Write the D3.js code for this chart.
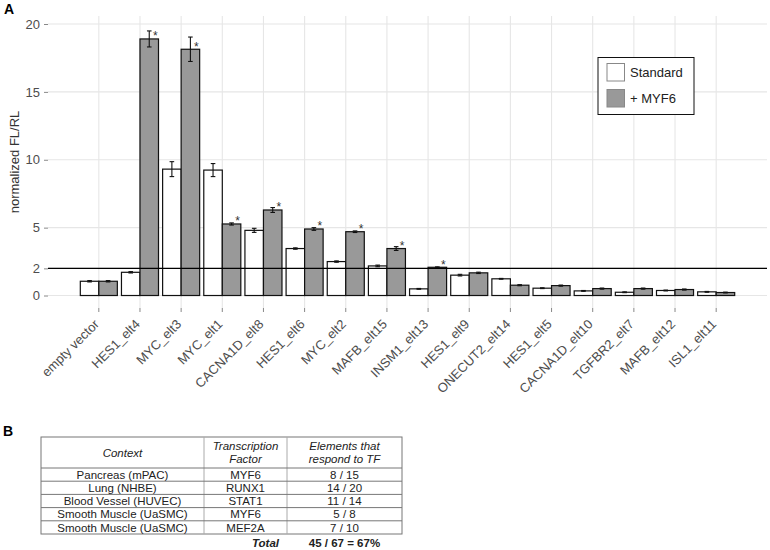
<!DOCTYPE html>
<html>
<head>
<meta charset="utf-8">
<script src="https://cdn.jsdelivr.net/npm/d3@7"></script>
<style>
  body { margin: 0; background: #fff; }
  svg { display: block; font-family: "Liberation Sans", Arial, sans-serif; }
</style>
</head>
<body>
<svg id="chart" width="770" height="550"></svg>
<script>
// ---- Data ----
const categories = ["empty vector","HES1_elt4","MYC_elt3","MYC_elt1","CACNA1D_elt8","HES1_elt6","MYC_elt2","MAFB_elt15","INSM1_elt13","HES1_elt9","ONECUT2_elt14","HES1_elt5","CACNA1D_elt10","TGFBR2_elt7","MAFB_elt12","ISL1_elt11"];
const seriesNames = ["Standard", "+ MYF6"];
const standardValues = [1.05, 1.71, 9.31, 9.24, 4.8, 3.46, 2.5, 2.18, 0.49, 1.5, 1.23, 0.54, 0.34, 0.24, 0.37, 0.27];
const standardErrors = [0.05, 0.05, 0.55, 0.48, 0.15, 0.05, 0.05, 0.06, 0.03, 0.06, 0.03, 0.03, 0.03, 0.03, 0.03, 0.03];
const myf6Values = [1.05, 18.9, 18.14, 5.27, 6.3, 4.9, 4.7, 3.46, 2.08, 1.67, 0.76, 0.73, 0.51, 0.51, 0.44, 0.22];
const myf6Errors = [0.05, 0.59, 0.9, 0.08, 0.18, 0.1, 0.06, 0.14, 0.03, 0.05, 0.04, 0.04, 0.04, 0.04, 0.04, 0.03];
const significant = [false, true, true, true, true, true, true, true, true, false, false, false, false, false, false, false];
const yTicks = [0, 2, 5, 10, 15, 20];
const thresholdValue = 2;

const tableHeaders = [["Context"], ["Transcription", "Factor"], ["Elements that", "respond to TF"]];
const tableContexts = ["Pancreas (mPAC)", "Lung (NHBE)", "Blood Vessel (HUVEC)", "Smooth Muscle (UaSMC)", "Smooth Muscle (UaSMC)"];
const tableFactors = ["MYF6", "RUNX1", "STAT1", "MYF6", "MEF2A"];
const tableElements = ["8 / 15", "14 / 20", "11 / 14", "5 / 8", "7 / 10"];
const totalLabel = "Total";
const totalValue = "45 / 67 = 67%";

// ---- Layout ----
const svg = d3.select("#chart");
const panel = { left: 48, right: 767, top: 16, bottom: 308 };

const x0 = d3.scaleBand().domain(categories).range([panel.left, panel.right]).paddingInner(0).paddingOuter(0.735);
const step = x0.step();
const groupW = step * 0.9;
const x1 = d3.scaleBand().domain(seriesNames).range([0, groupW]);
const groupStart = c => x0(c) + (x0.bandwidth() - groupW) / 2;
const y = d3.scaleLinear().domain([-0.92, 20.59]).range([panel.bottom, panel.top]);

const fills = { "Standard": "#ffffff", "+ MYF6": "#999999" };

// grid
const grid = svg.append("g");
grid.selectAll("line.h").data(yTicks).join("line")
  .attr("x1", panel.left).attr("x2", panel.right)
  .attr("y1", d => y(d)).attr("y2", d => y(d))
  .attr("stroke", "#e6e6e6").attr("stroke-width", 1.1);
grid.selectAll("line.v").data(categories).join("line")
  .attr("x1", d => x0(d) + x0.bandwidth() / 2).attr("x2", d => x0(d) + x0.bandwidth() / 2)
  .attr("y1", panel.top).attr("y2", panel.bottom)
  .attr("stroke", "#e6e6e6").attr("stroke-width", 1.1);

// bars data
const barData = [];
categories.forEach((c, i) => {
  barData.push({ c, s: "Standard", v: standardValues[i], e: standardErrors[i], sig: false });
  barData.push({ c, s: "+ MYF6", v: myf6Values[i], e: myf6Errors[i], sig: significant[i] });
});

svg.append("g").selectAll("rect").data(barData).join("rect")
  .attr("x", d => groupStart(d.c) + x1(d.s))
  .attr("width", x1.bandwidth())
  .attr("y", d => y(d.v))
  .attr("height", d => y(0) - y(d.v))
  .attr("fill", d => fills[d.s])
  .attr("stroke", "#111").attr("stroke-width", 1.2);

// error bars
const eb = svg.append("g").attr("stroke", "#111").attr("stroke-width", 1.1);
barData.forEach(d => {
  const cx = groupStart(d.c) + x1(d.s) + x1.bandwidth() / 2;
  const hw = 2.3;
  eb.append("line").attr("x1", cx).attr("x2", cx).attr("y1", y(d.v + d.e)).attr("y2", y(d.v - d.e));
  eb.append("line").attr("x1", cx - hw).attr("x2", cx + hw).attr("y1", y(d.v + d.e)).attr("y2", y(d.v + d.e));
  eb.append("line").attr("x1", cx - hw).attr("x2", cx + hw).attr("y1", y(d.v - d.e)).attr("y2", y(d.v - d.e));
});

// stars
svg.append("g").selectAll("text").data(barData.filter(d => d.sig)).join("text")
  .attr("x", d => groupStart(d.c) + x1(d.s) + x1.bandwidth() / 2 + 6)
  .attr("y", d => y(d.v) + 1.5)
  .attr("text-anchor", "middle")
  .attr("font-size", 12).attr("fill", "#333")
  .text("*");

// threshold line
svg.append("line")
  .attr("x1", panel.left).attr("x2", panel.right)
  .attr("y1", y(thresholdValue)).attr("y2", y(thresholdValue))
  .attr("stroke", "#000").attr("stroke-width", 1.3);

// y axis
const yAxis = svg.append("g").attr("transform", `translate(${panel.left},0)`)
  .call(d3.axisLeft(y).tickValues(yTicks).tickSize(4).tickPadding(4).tickFormat(d3.format("d")));
yAxis.select(".domain").remove();
yAxis.selectAll(".tick line").attr("stroke", "#888");
yAxis.selectAll(".tick text").attr("fill", "#4d4d4d").attr("font-size", 13)
  .attr("font-family", "Liberation Sans, Arial, sans-serif");

// x axis
const xAxis = svg.append("g").attr("transform", `translate(0,${panel.bottom})`)
  .call(d3.axisBottom(x0).tickSize(4).tickPadding(2));
xAxis.select(".domain").remove();
xAxis.selectAll(".tick line").attr("stroke", "#888");
xAxis.selectAll(".tick text")
  .attr("fill", "#4d4d4d").attr("font-size", 13)
  .attr("font-family", "Liberation Sans, Arial, sans-serif")
  .attr("text-anchor", "end")
  .attr("y", 0)
  .attr("dy", 0)
  .attr("transform", "translate(1,17) rotate(-45)");

// y title
svg.append("text")
  .attr("transform", `translate(14,${(panel.top + panel.bottom) / 2}) rotate(-90)`)
  .attr("text-anchor", "middle").attr("dy", "0.35em")
  .attr("font-size", 13).attr("fill", "#333")
  .text("normalized FL/RL");

// legend
const lg = svg.append("g");
lg.append("rect").attr("x", 598).attr("y", 57.5).attr("width", 96).attr("height", 57)
  .attr("fill", "#fff").attr("stroke", "#111").attr("stroke-width", 1);
seriesNames.forEach((s, i) => {
  lg.append("rect").attr("x", 607).attr("y", 63.5 + i * 26).attr("width", 17.5).attr("height", 17.5)
    .attr("fill", fills[s]).attr("stroke", "#888").attr("stroke-width", 1);
  lg.append("text").attr("x", 630).attr("y", 72.5 + i * 26).attr("dy", "0.35em")
    .attr("font-size", 13).attr("fill", "#222").text(s);
});

// panel labels
svg.append("text").attr("x", 4).attr("y", 14).attr("font-size", 14).attr("font-weight", "bold").text("A");
svg.append("text").attr("x", 3).attr("y", 436).attr("font-size", 14).attr("font-weight", "bold").text("B");

// ---- Table ----
const colX = [41, 204, 287, 402];
const tTop = 437, headH = 31, rowH = 13.2;
const tb = svg.append("g").attr("font-size", 11.5).attr("fill", "#222");
const nRows = tableContexts.length;
const tBottom = tTop + headH + rowH * nRows;
tb.append("rect").attr("x", colX[0]).attr("y", tTop).attr("width", colX[3] - colX[0]).attr("height", tBottom - tTop)
  .attr("fill", "none").attr("stroke", "#777").attr("stroke-width", 1);
[colX[1], colX[2]].forEach(cx => tb.append("line").attr("x1", cx).attr("x2", cx).attr("y1", tTop).attr("y2", tBottom)
  .attr("stroke", "#aaa").attr("stroke-width", 1));
for (let r = 0; r < nRows; r++) {
  const yy = tTop + headH + r * rowH;
  tb.append("line").attr("x1", colX[0]).attr("x2", colX[3]).attr("y1", yy).attr("y2", yy)
    .attr("stroke", "#777").attr("stroke-width", 1);
}
const colCenter = i => (colX[i] + colX[i + 1]) / 2;
tableHeaders.forEach((lines, i) => {
  lines.forEach((t, k) => {
    const cy = lines.length === 1 ? tTop + headH / 2 : tTop + headH / 2 + (k - 0.5) * 13.5;
    tb.append("text").attr("x", colCenter(i)).attr("y", cy).attr("dy", "0.35em")
      .attr("text-anchor", "middle").attr("font-style", "italic").text(t);
  });
});
const cols = [tableContexts, tableFactors, tableElements];
cols.forEach((arr, i) => {
  arr.forEach((t, r) => {
    tb.append("text").attr("x", colCenter(i)).attr("y", tTop + headH + r * rowH + rowH / 2).attr("dy", "0.36em")
      .attr("text-anchor", "middle").text(t);
  });
});
tb.append("text").attr("x", colX[2] - 8).attr("y", tBottom + 9).attr("dy", "0.36em")
  .attr("text-anchor", "end").attr("font-weight", "bold").attr("font-style", "italic").text(totalLabel);
tb.append("text").attr("x", colCenter(2)).attr("y", tBottom + 9).attr("dy", "0.36em")
  .attr("text-anchor", "middle").attr("font-weight", "bold").text(totalValue);
</script>
</body>
</html>
